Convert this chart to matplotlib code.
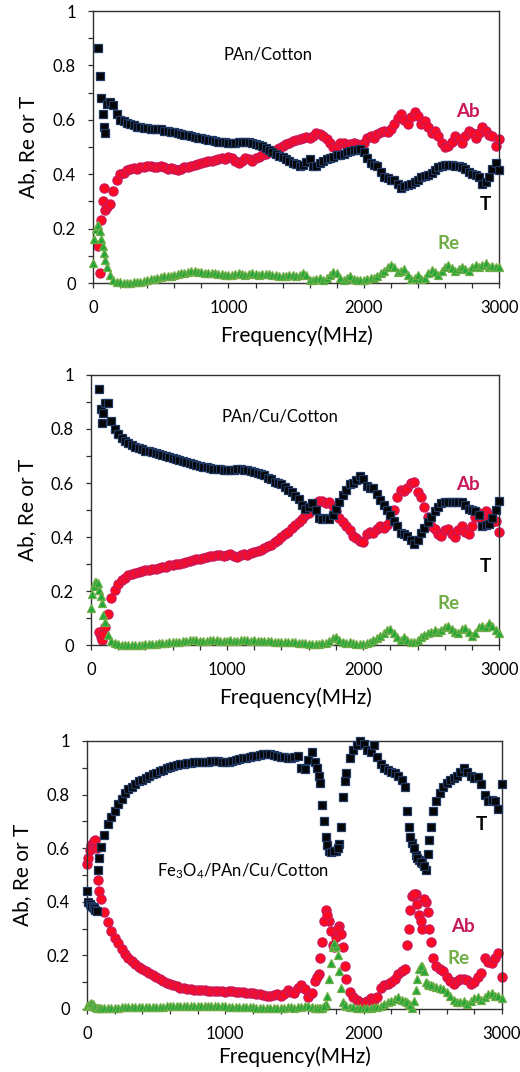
import numpy as np
import matplotlib
matplotlib.use("Agg")
import matplotlib.pyplot as plt
from matplotlib.ticker import MultipleLocator

plt.rcParams["font.family"] = ["Lato", "DejaVu Sans"]
plt.rcParams["mathtext.fontset"] = "custom"
plt.rcParams["mathtext.rm"] = "Lato"
plt.rcParams["mathtext.it"] = "Lato"

nan = np.nan

# Frequency grid (MHz): 10 MHz steps below 100 MHz, 25 MHz steps above
freq = list(range(0, 100, 10)) + list(range(100, 3001, 25))

# ---------------- PAn/Cotton ----------------
p1_T = [nan, nan, nan, nan, 0.865, 0.76, 0.68, 0.62, 0.575, 0.55,
        0.66, 0.665, 0.655, 0.62, 0.60, 0.595, 0.59, 0.585, 0.58, 0.575,
        0.575, 0.57, 0.57, 0.568, 0.567, 0.565, 0.565, 0.56, 0.558, 0.555,
        0.555, 0.55, 0.548, 0.545, 0.543, 0.54, 0.537, 0.535, 0.533, 0.53,
        0.527, 0.525, 0.522, 0.52, 0.518, 0.517, 0.516, 0.515, 0.516, 0.518,
        0.52, 0.518, 0.52, 0.516, 0.512, 0.508, 0.502, 0.497, 0.49, 0.482,
        0.475, 0.468, 0.462, 0.455, 0.448, 0.442, 0.438, 0.432, 0.435, 0.445,
        0.455, 0.432, 0.43, 0.44, 0.448, 0.455, 0.46, 0.465, 0.47, 0.47,
        0.475, 0.48, 0.485, 0.49, 0.49, 0.492, 0.48, 0.46, 0.44, 0.435,
        0.43, 0.41, 0.39, 0.385, 0.38, 0.378, 0.365, 0.35, 0.355, 0.362,
        0.365, 0.37, 0.38, 0.39, 0.395, 0.398, 0.405, 0.415, 0.425, 0.43,
        0.433, 0.435, 0.435, 0.432, 0.43, 0.425, 0.418, 0.41, 0.402, 0.398,
        0.39, 0.365, 0.37, 0.39, 0.42, 0.44, 0.415]
p1_Ab = [nan, nan, nan, nan, 0.135, 0.037, 0.23, 0.30, 0.35, 0.27,
         0.28, 0.29, 0.34, 0.38, 0.40, 0.405, 0.415, 0.42, 0.422, 0.42,
         0.425, 0.428, 0.43, 0.432, 0.428, 0.425, 0.43, 0.425, 0.42, 0.423,
         0.42, 0.415, 0.42, 0.425, 0.428, 0.43, 0.435, 0.438, 0.44, 0.445,
         0.45, 0.448, 0.452, 0.455, 0.46, 0.455, 0.465, 0.46, 0.45, 0.443,
         0.448, 0.46, 0.455, 0.45, 0.46, 0.465, 0.47, 0.475, 0.48, 0.482,
         0.49, 0.495, 0.502, 0.51, 0.515, 0.522, 0.525, 0.53, 0.535, 0.538,
         0.535, 0.54, 0.55, 0.548, 0.54, 0.53, 0.515, 0.50, 0.505, 0.515,
         0.515, 0.505, 0.512, 0.515, 0.51, 0.505, 0.515, 0.535, 0.54, 0.535,
         0.548, 0.555, 0.56, 0.555, 0.565, 0.585, 0.605, 0.62, 0.60, 0.585,
         0.61, 0.63, 0.615, 0.585, 0.595, 0.575, 0.55, 0.56, 0.54, 0.515,
         0.50, 0.505, 0.52, 0.54, 0.53, 0.515, 0.54, 0.56, 0.55, 0.535,
         0.55, 0.575, 0.56, 0.545, 0.54, 0.505, 0.53]
p1_Re = [0.073, 0.16, 0.20, 0.21, 0.215, 0.19, 0.16, 0.135, 0.11, 0.085,
         0.06, 0.03, 0.012, 0.005, 0.002, 0.0, 0.0, 0.001, 0.002, 0.003,
         0.005, 0.007, 0.01, 0.013, 0.016, 0.02, 0.022, 0.025, 0.024, 0.027,
         0.03, 0.032, 0.035, 0.037, 0.04, 0.043, 0.045, 0.042, 0.04, 0.038,
         0.036, 0.035, 0.037, 0.034, 0.032, 0.03, 0.028, 0.03, 0.033, 0.035,
         0.032, 0.03, 0.032, 0.035, 0.033, 0.03, 0.032, 0.034, 0.033, 0.03,
         0.028, 0.026, 0.025, 0.027, 0.03, 0.028, 0.025, 0.028, 0.035, 0.03,
         0.012, 0.01, 0.015, 0.02, 0.01, 0.018, 0.03, 0.04, 0.035, 0.02,
         0.012, 0.02, 0.025, 0.015, 0.012, 0.01, 0.012, 0.015, 0.02, 0.018,
         0.025, 0.035, 0.045, 0.058, 0.068, 0.06, 0.042, 0.045, 0.052, 0.03,
         0.015, 0.02, 0.03, 0.015, 0.02, 0.035, 0.048, 0.04, 0.03, 0.045,
         0.06, 0.068, 0.055, 0.045, 0.052, 0.06, 0.05, 0.045, 0.058, 0.065,
         0.06, 0.065, 0.072, 0.06, 0.062, 0.058, 0.058]

# ---------------- PAn/Cu/Cotton ----------------
p2_T = [nan, nan, nan, nan, nan, nan, 0.947, 0.873, 0.823, 0.86,
        0.895, 0.895, 0.83, 0.80, 0.78, 0.765, 0.755, 0.748, 0.74, 0.735,
        0.73, 0.725, 0.72, 0.718, 0.716, 0.712, 0.708, 0.705, 0.70, 0.697,
        0.693, 0.69, 0.686, 0.682, 0.678, 0.675, 0.672, 0.668, 0.664, 0.66,
        0.658, 0.656, 0.653, 0.651, 0.65, 0.649, 0.648, 0.648, 0.648, 0.652,
        0.65, 0.647, 0.648, 0.645, 0.642, 0.638, 0.634, 0.628, 0.62, 0.613,
        0.605, 0.60, 0.595, 0.585, 0.575, 0.565, 0.553, 0.54, 0.52, 0.505,
        0.51, 0.525, 0.50, 0.47, 0.465, 0.47, 0.465, 0.48, 0.505, 0.53,
        0.555, 0.575, 0.595, 0.60, 0.61, 0.625, 0.615, 0.59, 0.58, 0.58,
        0.56, 0.537, 0.52, 0.50, 0.48, 0.46, 0.44, 0.415, 0.41, 0.405,
        0.39, 0.375, 0.39, 0.415, 0.435, 0.455, 0.475, 0.495, 0.51, 0.525,
        0.528, 0.53, 0.53, 0.53, 0.53, 0.53, 0.52, 0.505, 0.50, 0.495,
        0.48, 0.44, 0.445, 0.45, 0.47, 0.50, 0.535]
p2_Ab = [nan, nan, nan, nan, nan, nan, 0.05, 0.03, 0.018, 0.04,
         0.068, 0.115, 0.175, 0.205, 0.225, 0.24, 0.25, 0.258, 0.263, 0.268,
         0.272, 0.275, 0.277, 0.278, 0.28, 0.283, 0.286, 0.29, 0.29, 0.295,
         0.298, 0.30, 0.30, 0.305, 0.308, 0.312, 0.315, 0.318, 0.32, 0.323,
         0.325, 0.328, 0.33, 0.332, 0.333, 0.33, 0.335, 0.338, 0.328, 0.325,
         0.332, 0.338, 0.335, 0.34, 0.343, 0.348, 0.353, 0.36, 0.365, 0.372,
         0.38, 0.39, 0.40, 0.41, 0.42, 0.432, 0.445, 0.455, 0.468, 0.48,
         0.49, 0.51, 0.525, 0.535, 0.535, 0.525, 0.53, 0.515, 0.495, 0.47,
         0.455, 0.44, 0.425, 0.405, 0.395, 0.385, 0.38, 0.41, 0.42, 0.415,
         0.43, 0.44, 0.435, 0.445, 0.46, 0.50, 0.55, 0.575, 0.57, 0.58,
         0.60, 0.605, 0.565, 0.55, 0.51, 0.475, 0.44, 0.43, 0.41, 0.405,
         0.425, 0.43, 0.41, 0.40, 0.425, 0.44, 0.42, 0.41, 0.44, 0.475,
         0.49, 0.46, 0.495, 0.48, 0.455, 0.46, 0.42]
p2_Re = [0.136, 0.19, 0.22, 0.235, 0.235, 0.23, 0.205, 0.18, 0.155, 0.11,
         0.085, 0.037, 0.014, 0.006, 0.002, 0.0, 0.0, 0.0, 0.0, 0.0,
         0.0, 0.001, 0.002, 0.003, 0.004, 0.005, 0.006, 0.007, 0.008, 0.01,
         0.011, 0.012, 0.013, 0.015, 0.016, 0.017, 0.018, 0.017, 0.016, 0.015,
         0.016, 0.017, 0.018, 0.017, 0.016, 0.015, 0.016, 0.017, 0.016, 0.015,
         0.017, 0.018, 0.017, 0.016, 0.018, 0.016, 0.014, 0.015, 0.016, 0.014,
         0.012, 0.013, 0.012, 0.011, 0.01, 0.012, 0.01, 0.008, 0.008, 0.006,
         0.005, 0.003, 0.002, 0.004, 0.006, 0.008, 0.015, 0.025, 0.03, 0.02,
         0.012, 0.008, 0.01, 0.006, 0.004, 0.003, 0.005, 0.008, 0.012, 0.018,
         0.025, 0.032, 0.045, 0.055, 0.058, 0.045, 0.03, 0.02, 0.028, 0.02,
         0.012, 0.01, 0.02, 0.03, 0.038, 0.045, 0.05, 0.055, 0.05, 0.055,
         0.065, 0.072, 0.06, 0.05, 0.045, 0.058, 0.062, 0.05, 0.035, 0.045,
         0.065, 0.07, 0.065, 0.08, 0.07, 0.055, 0.045]

# ---------------- Fe3O4/PAn/Cu/Cotton ----------------
p3_T = [0.44, 0.40, 0.39, 0.385, 0.38, 0.375, 0.37, 0.365, 0.52, 0.565,
        0.605, 0.65, 0.69, 0.715, 0.74, 0.765, 0.785, 0.805, 0.82, 0.83,
        0.84, 0.85, 0.856, 0.862, 0.87, 0.876, 0.882, 0.888, 0.893, 0.898,
        0.903, 0.907, 0.91, 0.913, 0.915, 0.917, 0.918, 0.92, 0.921, 0.922,
        0.922, 0.923, 0.925, 0.926, 0.924, 0.922, 0.92, 0.922, 0.925, 0.928,
        0.932, 0.935, 0.938, 0.94, 0.943, 0.945, 0.947, 0.95, 0.952, 0.95,
        0.948, 0.945, 0.942, 0.94, 0.937, 0.935, 0.94, 0.945, 0.90, 0.895,
        0.93, 0.96, 0.92, 0.87, 0.76, 0.64, 0.59, 0.588, 0.59, 0.615,
        0.79, 0.88, 0.935, 0.965, 0.985, 1.0, 0.99, 0.965, 0.96, 0.985,
        0.94, 0.915, 0.90, 0.892, 0.885, 0.88, 0.87, 0.855, 0.83, 0.68,
        0.62, 0.575, 0.555, 0.545, 0.52, 0.63, 0.74, 0.775, 0.805, 0.83,
        0.845, 0.855, 0.86, 0.87, 0.885, 0.90, 0.885, 0.87, 0.86, 0.865,
        0.84, 0.80, 0.775, 0.78, 0.775, 0.745, 0.84]
p3_Ab = [0.54, 0.565, 0.595, 0.61, 0.62, 0.625, 0.63, 0.60, 0.48, 0.44,
         0.41, 0.36, 0.325, 0.29, 0.265, 0.245, 0.225, 0.205, 0.19, 0.178,
         0.167, 0.158, 0.15, 0.142, 0.135, 0.125, 0.118, 0.11, 0.104, 0.098,
         0.092, 0.088, 0.085, 0.08, 0.077, 0.075, 0.073, 0.072, 0.07, 0.07,
         0.069, 0.068, 0.068, 0.067, 0.068, 0.066, 0.065, 0.068, 0.066, 0.064,
         0.063, 0.062, 0.06, 0.059, 0.058, 0.056, 0.055, 0.053, 0.05, 0.05,
         0.052, 0.055, 0.05, 0.055, 0.07, 0.065, 0.06, 0.08, 0.09, 0.075,
         0.045, 0.06, 0.105, 0.13, 0.25, 0.37, 0.33, 0.24, 0.27, 0.31,
         0.23, 0.11, 0.065, 0.045, 0.032, 0.025, 0.02, 0.03, 0.04, 0.035,
         0.045, 0.08, 0.09, 0.095, 0.10, 0.11, 0.13, 0.14, 0.15, 0.30,
         0.42, 0.43, 0.35, 0.30, 0.40, 0.30, 0.19, 0.16, 0.15, 0.14,
         0.12, 0.105, 0.095, 0.105, 0.113, 0.11, 0.108, 0.095, 0.10, 0.12,
         0.135, 0.19, 0.175, 0.17, 0.19, 0.21, 0.12]
p3_Re = [0.01, 0.015, 0.02, 0.022, 0.018, 0.012, 0.008, 0.005, 0.004, 0.003,
         0.003, 0.003, 0.003, 0.004, 0.005, 0.005, 0.006, 0.006, 0.006, 0.007,
         0.007, 0.007, 0.008, 0.008, 0.008, 0.008, 0.009, 0.009, 0.009, 0.01,
         0.01, 0.01, 0.011, 0.011, 0.011, 0.011, 0.011, 0.011, 0.011, 0.011,
         0.011, 0.01, 0.01, 0.01, 0.01, 0.01, 0.01, 0.009, 0.009, 0.008,
         0.008, 0.007, 0.007, 0.006, 0.006, 0.005, 0.005, 0.005, 0.004, 0.004,
         0.004, 0.004, 0.005, 0.005, 0.006, 0.006, 0.005, 0.006, 0.008, 0.01,
         0.012, 0.008, 0.005, 0.003, 0.005, 0.02, 0.11, 0.23, 0.235, 0.14,
         0.025, 0.01, 0.008, 0.006, 0.005, 0.004, 0.004, 0.005, 0.005, 0.006,
         0.008, 0.012, 0.02, 0.025, 0.03, 0.038, 0.045, 0.035, 0.03, 0.02,
         0.005, 0.07, 0.15, 0.16, 0.10, 0.088, 0.085, 0.083, 0.08, 0.075,
         0.065, 0.05, 0.035, 0.025, 0.025, 0.03, 0.02, 0.028, 0.04, 0.045,
         0.035, 0.045, 0.055, 0.06, 0.05, 0.048, 0.042]

# Finer sampling through the two resonance bands of the Fe3O4 sample
freq3_fine = [1662.5, 1687.5, 1712.5, 1737.5, 1762.5, 1787.5, 1812.5, 1837.5, 1862.5,
              2312.5, 2337.5, 2362.5, 2387.5, 2412.5, 2437.5, 2462.5, 2487.5]
p3_T_fine = [0.90, 0.845, 0.70, 0.61, 0.585, 0.588, 0.60, 0.68, 0.85,
             0.74, 0.64, 0.60, 0.565, 0.55, 0.535, 0.58, 0.68]
p3_Ab_fine = [0.12, 0.19, 0.33, 0.35, 0.29, 0.23, 0.30, 0.28, 0.16,
              0.24, 0.37, 0.43, 0.39, 0.33, 0.41, 0.36, 0.25]
p3_Re_fine = [0.004, 0.004, 0.01, 0.05, 0.17, 0.245, 0.20, 0.08, 0.015,
              0.025, 0.015, 0.03, 0.11, 0.16, 0.14, 0.095, 0.088]

panel_names = ["PAn/Cotton", "PAn/Cu/Cotton", "Fe$_3$O$_4$/PAn/Cu/Cotton"]
panel_freq = [freq, freq, freq + freq3_fine]
series = [(p1_T, p1_Ab, p1_Re),
          (p2_T, p2_Ab, p2_Re),
          (p3_T + p3_T_fine, p3_Ab + p3_Ab_fine, p3_Re + p3_Re_fine)]

# axes rectangles in figure fractions
rects = [[0.179, 0.736, 0.781, 0.2537],
         [0.175, 0.3983, 0.785, 0.2519],
         [0.1673, 0.0588, 0.798, 0.250]]
# annotation positions (data coords)
name_pos = [(960, 0.84), (960, 0.845), (505, 0.515)]
ab_pos = [(2772, 0.63), (2772, 0.593), (2719, 0.306)]
t_pos = [(2897, 0.287), (2897, 0.289), (2849, 0.69)]
re_pos = [(2624, 0.147), (2625, 0.152), (2683, 0.19)]
ylab_x = [-0.16, -0.157, -0.157]
xlab_y = [-0.195, -0.196, -0.179]

AB_FACE, AB_EDGE = "#FF0A22", "#C8185A"
T_FACE, T_EDGE = "#050505", "#1F3864"
RE_FACE, RE_EDGE = "#1FA83A", "#70AD47"

fig = plt.figure(figsize=(5.2, 10.72), dpi=100)

for i in range(3):
    ax = fig.add_axes(rects[i])
    f = panel_freq[i]
    t, ab, re = series[i]
    ax.plot(f, ab, ls="none", marker="o", ms=6.6, mfc=AB_FACE,
            mec=AB_EDGE, mew=0.9, clip_on=False, zorder=2)
    ax.plot(f, t, ls="none", marker="s", ms=5.6, mfc=T_FACE,
            mec=T_EDGE, mew=0.9, clip_on=False, zorder=3)
    ax.plot(f, re, ls="none", marker="^", ms=6.4, mfc=RE_FACE,
            mec=RE_EDGE, mew=0.9, clip_on=False, zorder=4)

    ax.set_xlim(0, 3000)
    ax.set_ylim(0, 1)
    ax.xaxis.set_major_locator(MultipleLocator(1000))
    ax.xaxis.set_minor_locator(MultipleLocator(200))
    ax.yaxis.set_minor_locator(MultipleLocator(0.1))
    ax.set_yticks([0, 0.2, 0.4, 0.6, 0.8, 1.0])
    ax.set_yticklabels(["0", "0.2", "0.4", "0.6", "0.8", "1"])
    ax.tick_params(which="both", direction="out", length=3.3, width=0.9,
                   color="#303030", labelsize=12, pad=9)
    for sp in ax.spines.values():
        sp.set_linewidth(1.0)
        sp.set_color("#303030")

    ax.set_xlabel("Frequency(MHz)", fontsize=15)
    ax.set_ylabel("Ab, Re or T", fontsize=15)
    ax.xaxis.label.set_va("center")
    ax.xaxis.set_label_coords(0.5, xlab_y[i])
    ax.yaxis.label.set_va("center")
    ax.yaxis.set_label_coords(ylab_x[i], 0.5)

    ax.text(*name_pos[i], panel_names[i], fontsize=12, ha="left",
            va="center", color="black")
    ax.text(*ab_pos[i], "Ab", fontsize=13.5, fontweight="bold",
            color=AB_EDGE, ha="center", va="center")
    ax.text(*t_pos[i], "T", fontsize=13.5, fontweight="bold",
            color="black", ha="center", va="center")
    ax.text(*re_pos[i], "Re", fontsize=13.5, fontweight="bold",
            color=RE_EDGE, ha="center", va="center")

fig.savefig("out.png", dpi=100)
